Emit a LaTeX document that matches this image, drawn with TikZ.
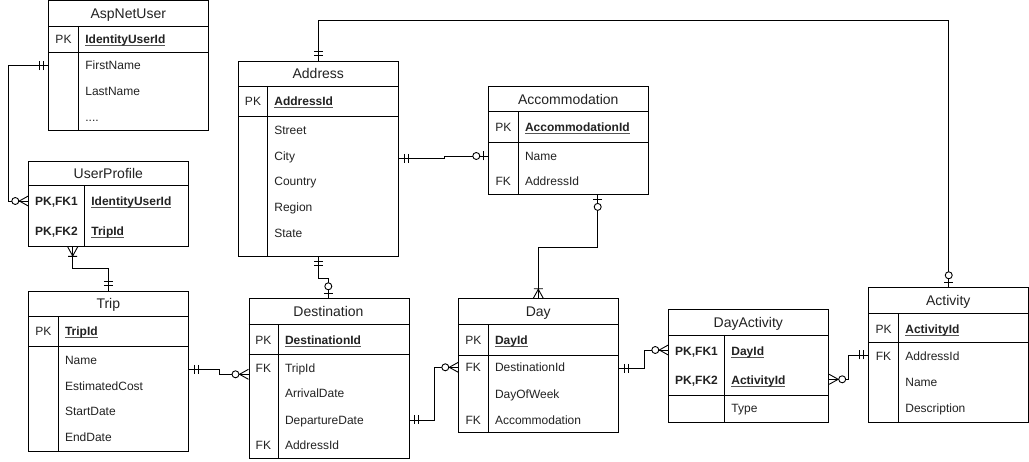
\documentclass[tikz,border=0pt]{standalone}
\usepackage{fontspec}
\setmainfont{Liberation Sans}
\usetikzlibrary{calc}
\definecolor{txt}{HTML}{222222}
\definecolor{uln}{HTML}{555555}
\newcommand\ermandone[2]{\begin{scope}[shift={(#1)},rotate=#2]\draw[mk](5,-4.5)--(5,4.5) (9,-4.5)--(9,4.5);\end{scope}}
\newcommand\erzeromany[2]{\begin{scope}[shift={(#1)},rotate=#2]\draw[mk](0,-5)--(9,0)--(0,5);\draw[mkc](13,0) circle[radius=3.5pt];\end{scope}}
\newcommand\eronemany[2]{\begin{scope}[shift={(#1)},rotate=#2]\draw[mk](0,-5)--(9,0)--(0,5) (9.5,-4.5)--(9.5,4.5);\end{scope}}
\newcommand\erzeroone[2]{\begin{scope}[shift={(#1)},rotate=#2]\draw[mk](5,-4.5)--(5,4.5);\draw[mkc](12,0) circle[radius=3.5pt];\end{scope}}
\newsavebox\pkeybox
\newcommand\pkey[1]{\sbox\pkeybox{\textbf{#1}}\rlap{\textcolor{uln}{\rule[-2.2pt]{\wd\pkeybox}{0.8pt}}}\usebox\pkeybox}
\begin{document}
\begin{tikzpicture}[x=1pt,y=-1pt,
  tbl/.style={draw,line width=0.9pt,minimum width=160pt,inner sep=0pt,anchor=north west},
  sep/.style={line width=0.9pt},
  ttl/.style={font=\fontsize{14}{16}\selectfont,text=txt,inner sep=0pt,text height=10pt,text depth=0pt},
  fld/.style={font=\fontsize{12}{14}\selectfont,text=txt,anchor=west,inner sep=0pt,text height=8.6pt,text depth=0pt},
  key/.style={font=\fontsize{12}{14}\selectfont,text=txt,inner sep=0pt,text height=8.6pt,text depth=0pt},
  conn/.style={line width=0.9pt},
  mk/.style={line width=0.9pt},
  mkc/.style={line width=0.9pt,fill=white}]
\useasboundingbox (0,0) rectangle (1029,462);
\fill[white] (0,0) rectangle (1029,462);

% ---------- AspNetUser
\node[tbl,minimum height=130pt] (asp) at (48.3,0.5) {};
\draw[sep] (asp.west |- 0,26) -- (asp.east |- 0,26);
\draw[sep] (asp.west |- 0,52) -- (asp.east |- 0,52);
\draw[sep] (78.7,26) -- (asp.south -| 78.7,0);
\node[ttl] (asp-t) at (128.3,14) {AspNetUser};
\node[key] (asp-k1) at (63.5,39) {PK};
\node[fld] (asp-f1) at (85.2,39) {\pkey{IdentityUserId}};
\node[fld] (asp-f2) at (85.2,65.5) {FirstName};
\node[fld] (asp-f3) at (85.2,91) {LastName};
\node[fld] (asp-f4) at (85.2,117) {....};

% ---------- UserProfile
\node[tbl,minimum height=85.3pt] (up) at (28.3,160.7) {};
\draw[sep] (up.west |- 0,185.7) -- (up.east |- 0,185.7);
\draw[sep] (84.7,185.7) -- (up.south -| 84.7,0);
\node[ttl] (up-t) at (108.3,174) {UserProfile};
\node[key] (up-k1) at (56.5,201) {\textbf{PK,FK1}};
\node[fld] (up-f1) at (91.2,201) {\pkey{IdentityUserId}};
\node[key] (up-k2) at (56.5,231) {\textbf{PK,FK2}};
\node[fld] (up-f2) at (91.2,231) {\pkey{TripId}};

% ---------- Trip
\node[tbl,minimum height=160pt] (trip) at (28.3,290.7) {};
\draw[sep] (trip.west |- 0,316.5) -- (trip.east |- 0,316.5);
\draw[sep] (trip.west |- 0,346.7) -- (trip.east |- 0,346.7);
\draw[sep] (58.3,316.5) -- (trip.south -| 58.3,0);
\node[ttl] (trip-t) at (108.3,304) {Trip};
\node[key] (trip-k1) at (43.3,331.7) {PK};
\node[fld] (trip-f1) at (64.8,331.7) {\pkey{TripId}};
\node[fld] (trip-f2) at (64.8,360) {Name};
\node[fld] (trip-f3) at (64.8,386) {EstimatedCost};
\node[fld] (trip-f4) at (64.8,411.7) {StartDate};
\node[fld] (trip-f5) at (64.8,437) {EndDate};

% ---------- Address
\node[tbl,minimum height=195.3pt] (addr) at (238.3,60.7) {};
\draw[sep] (addr.west |- 0,86) -- (addr.east |- 0,86);
\draw[sep] (addr.west |- 0,116) -- (addr.east |- 0,116);
\draw[sep] (267.7,86) -- (addr.south -| 267.7,0);
\node[ttl] (addr-t) at (318.3,74) {Address};
\node[key] (addr-k1) at (253,101.7) {PK};
\node[fld] (addr-f1) at (274.2,101.7) {\pkey{AddressId}};
\node[fld] (addr-f2) at (274.2,130) {Street};
\node[fld] (addr-f3) at (274.2,156) {City};
\node[fld] (addr-f4) at (274.2,181.7) {Country};
\node[fld] (addr-f5) at (274.2,207.3) {Region};
\node[fld] (addr-f6) at (274.2,233.3) {State};

% ---------- Accommodation
\node[tbl,minimum height=108pt] (acc) at (488.3,86) {};
\draw[sep] (acc.west |- 0,111.7) -- (acc.east |- 0,111.7);
\draw[sep] (acc.west |- 0,142.3) -- (acc.east |- 0,142.3);
\draw[sep] (518.3,111.7) -- (acc.south -| 518.3,0);
\node[ttl] (acc-t) at (568.3,99.5) {Accommodation};
\node[key] (acc-k1) at (503.3,127.7) {PK};
\node[fld] (acc-f1) at (524.8,127.7) {\pkey{AccommodationId}};
\node[fld] (acc-f2) at (524.8,156) {Name};
\node[key] (acc-k3) at (503.3,181.7) {FK};
\node[fld] (acc-f3) at (524.8,181.7) {AddressId};

% ---------- Destination
\node[tbl,minimum height=160pt] (dest) at (248.5,298.3) {};
\draw[sep] (dest.west |- 0,324.3) -- (dest.east |- 0,324.3);
\draw[sep] (dest.west |- 0,354.7) -- (dest.east |- 0,354.7);
\draw[sep] (278.3,324.3) -- (dest.south -| 278.3,0);
\node[ttl] (dest-t) at (328.5,312) {Destination};
\node[key] (dest-k1) at (263.4,340.7) {PK};
\node[fld] (dest-f1) at (284.8,340.7) {\pkey{DestinationId}};
\node[key] (dest-k2) at (263.4,368.3) {FK};
\node[fld] (dest-f2) at (284.8,368.3) {TripId};
\node[fld] (dest-f3) at (284.8,393.3) {ArrivalDate};
\node[fld] (dest-f4) at (284.8,420) {DepartureDate};
\node[key] (dest-k5) at (263.4,445) {FK};
\node[fld] (dest-f5) at (284.8,445) {AddressId};

% ---------- Day
\node[tbl,minimum height=134pt] (day) at (458.3,298.3) {};
\draw[sep] (day.west |- 0,324.3) -- (day.east |- 0,324.3);
\draw[sep] (day.west |- 0,355) -- (day.east |- 0,355);
\draw[sep] (488.3,324.3) -- (day.south -| 488.3,0);
\node[ttl] (day-t) at (538.3,312) {Day};
\node[key] (day-k1) at (473.3,340) {PK};
\node[fld] (day-f1) at (494.8,340) {\pkey{DayId}};
\node[key] (day-k2) at (473.3,367.5) {FK};
\node[fld] (day-f2) at (494.8,367.5) {DestinationId};
\node[fld] (day-f3) at (494.8,394) {DayOfWeek};
\node[key] (day-k4) at (473.3,420) {FK};
\node[fld] (day-f4) at (494.8,420) {Accommodation};

% ---------- DayActivity
\node[tbl,minimum height=112.4pt] (da) at (668.3,309.3) {};
\draw[sep] (da.west |- 0,335) -- (da.east |- 0,335);
\draw[sep] (da.west |- 0,395.3) -- (da.east |- 0,395.3);
\draw[sep] (724.7,335) -- (da.south -| 724.7,0);
\node[ttl] (da-t) at (748.3,323) {DayActivity};
\node[key] (da-k1) at (696.5,351) {\textbf{PK,FK1}};
\node[fld] (da-f1) at (731.2,351) {\pkey{DayId}};
\node[key] (da-k2) at (696.5,380.3) {\textbf{PK,FK2}};
\node[fld] (da-f2) at (731.2,380.3) {\pkey{ActivityId}};
\node[fld] (da-f3) at (731.2,408.3) {Type};

% ---------- Activity
\node[tbl,minimum height=134.4pt] (act) at (868.3,287.3) {};
\draw[sep] (act.west |- 0,313.3) -- (act.east |- 0,313.3);
\draw[sep] (act.west |- 0,342.7) -- (act.east |- 0,342.7);
\draw[sep] (898.7,313.3) -- (act.south -| 898.7,0);
\node[ttl] (act-t) at (948.3,301) {Activity};
\node[key] (act-k1) at (883.5,329) {PK};
\node[fld] (act-f1) at (905.2,329) {\pkey{ActivityId}};
\node[key] (act-k2) at (883.5,356.7) {FK};
\node[fld] (act-f2) at (905.2,356.7) {AddressId};
\node[fld] (act-f3) at (905.2,382.3) {Name};
\node[fld] (act-f4) at (905.2,408.3) {Description};

% ---------- connector end points
\coordinate (p1) at (asp.west |- 0,65.7);
\coordinate (p2) at (up.west |- 0,201);
\coordinate (p3) at (up.south -| 72.7,0);
\coordinate (p4) at (trip.north -| 108.3,0);
\coordinate (p5) at (trip.east |- 0,369.3);
\coordinate (p6) at (dest.west |- 0,374.3);
\coordinate (p7) at (dest.east |- 0,420);
\coordinate (p8) at (day.west |- 0,367.3);
\coordinate (p9) at (addr.south -| 318.3,0);
\coordinate (p10) at (dest.north -| 328.3,0);
\coordinate (p11) at (addr.east |- 0,158.3);
\coordinate (p12) at (acc.west |- 0,156);
\coordinate (p13) at (acc.south -| 597.7,0);
\coordinate (p14) at (day.north -| 538.3,0);
\coordinate (p15) at (day.east |- 0,368.3);
\coordinate (p16) at (da.west |- 0,350);
\coordinate (p17) at (da.east |- 0,379.3);
\coordinate (p18) at (act.west |- 0,355);
\coordinate (p19) at (addr.north);
\coordinate (p20) at (act.north);

% ---------- connectors
\draw[conn] (p1) -- ++(-40,0) |- (p2);
\draw[conn] (p3) -- ++(0,22) -| (p4);
\draw[conn] (p5) -- ++(30,0) |- (p6);
\draw[conn] (p7) -- ++(25,0) |- (p8);
\draw[conn] (p9) -- ++(0,21.7) -| (p10);
\draw[conn] (p11) -- ++(45,0) |- (p12);
\draw[conn] (p13) -- ++(0,52.3) -| (p14);
\draw[conn] (p15) -- ++(25,0) |- (p16);
\draw[conn] (p17) -- ++(19.6,0) |- (p18);
\draw[conn] (p19) -- (p19 |- 0,20) -| (p20);

% ---------- markers
\ermandone{p1}{180}  \erzeromany{p2}{180}
\eronemany{p3}{270}  \ermandone{p4}{90}
\ermandone{p5}{0}    \erzeromany{p6}{180}
\ermandone{p7}{0}    \erzeromany{p8}{180}
\ermandone{p9}{270}  \erzeroone{p10}{90}
\ermandone{p11}{0}   \erzeroone{p12}{180}
\erzeroone{p13}{270} \eronemany{p14}{90}
\ermandone{p15}{0}   \erzeromany{p16}{180}
\erzeromany{p17}{0}  \ermandone{p18}{180}
\ermandone{p19}{90}  \erzeroone{p20}{90}
\end{tikzpicture}
\end{document}
